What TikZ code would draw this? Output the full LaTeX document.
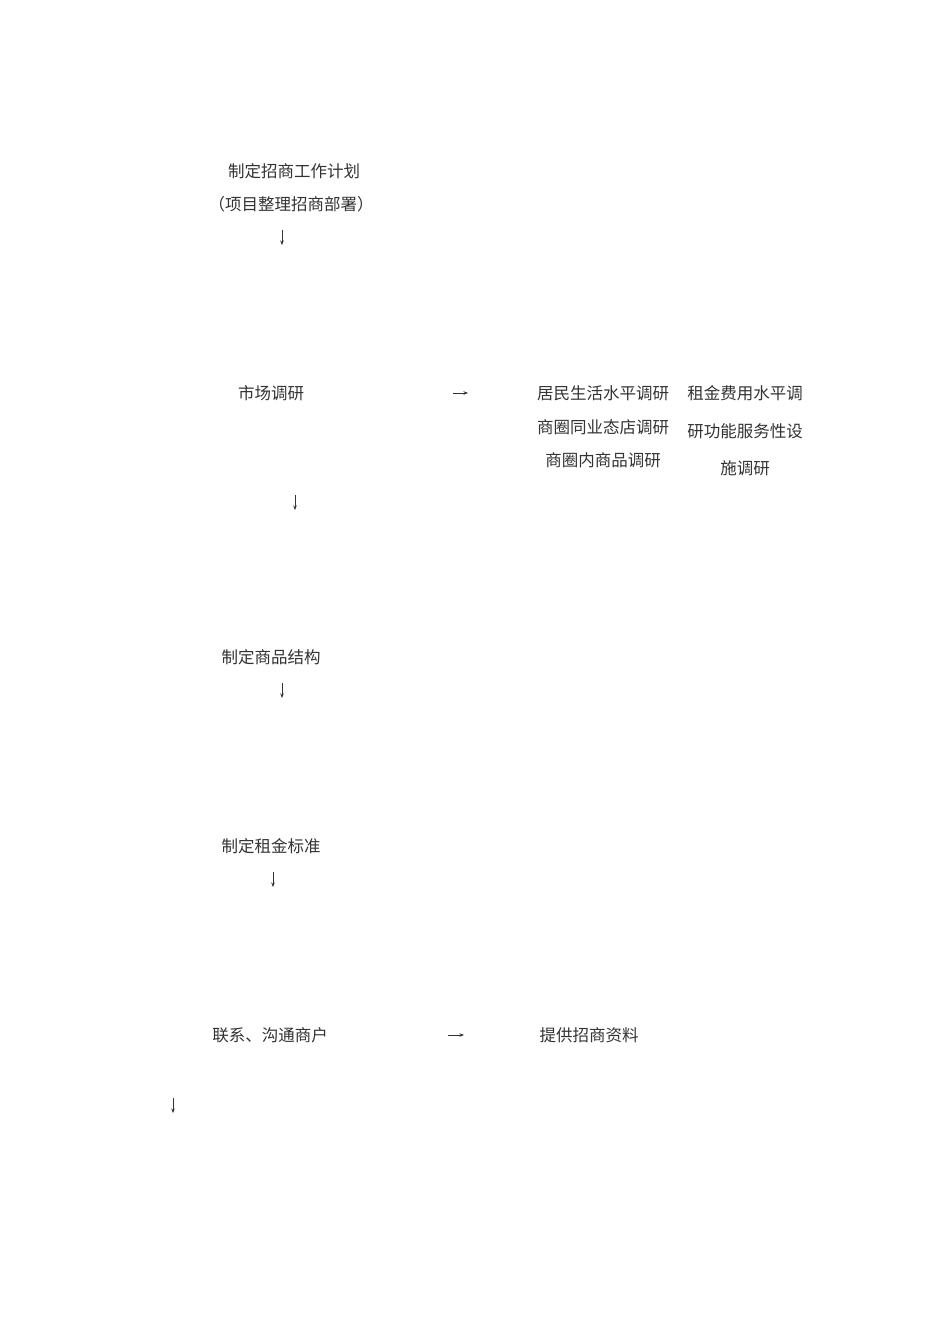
\documentclass[tikz,border=0pt]{standalone}
\usepackage{fontspec}
\setmainfont{Noto Sans CJK SC}
\usetikzlibrary{arrows.meta}
\definecolor{ink}{HTML}{333333}
\tikzset{
  lbl/.style={text=ink, inner sep=0pt, font=\fontsize{16.5}{20}\selectfont},
  glyph/.style={draw=ink, line width=0.6pt, -{Stealth[length=4.5pt,width=3.5pt]}}
}
\begin{document}
\begin{tikzpicture}[x=1pt,y=-1pt]
\useasboundingbox (0,0) rectangle (950,1344);
\fill[white] (0,0) rectangle (950,1344);
\node[lbl] (plan) at (294,171) {制定招商工作计划};
\node[lbl] (plan2) at (291,204) {（项目整理招商部署）};
\coordinate (a1s) at (282,230); \coordinate (a1e) at (282,245);
\draw[glyph] (a1s) -- (a1e);

\node[lbl] (market) at (271,393) {市场调研};
\coordinate (a2s) at (453,393); \coordinate (a2e) at (468,393);
\draw[glyph] (a2s) -- (a2e);
\node[lbl] (r1) at (603,393) {居民生活水平调研};
\node[lbl] (r2) at (603,427) {商圈同业态店调研};
\node[lbl] (r3) at (603,460) {商圈内商品调研};
\node[lbl] (s1) at (745,393) {租金费用水平调};
\node[lbl] (s2) at (745,431) {研功能服务性设};
\node[lbl] (s3) at (745,468) {施调研};
\coordinate (a3s) at (295,495); \coordinate (a3e) at (295,510);
\draw[glyph] (a3s) -- (a3e);

\node[lbl] (struct) at (271,657) {制定商品结构};
\coordinate (a4s) at (282,683); \coordinate (a4e) at (282,698);
\draw[glyph] (a4s) -- (a4e);

\node[lbl] (rent) at (271,846) {制定租金标准};
\coordinate (a5s) at (273,872); \coordinate (a5e) at (273,887);
\draw[glyph] (a5s) -- (a5e);

\node[lbl] (contact) at (270,1035) {联系、沟通商户};
\coordinate (a6s) at (448,1035); \coordinate (a6e) at (464,1035);
\draw[glyph] (a6s) -- (a6e);
\node[lbl] (info) at (589,1035) {提供招商资料};
\coordinate (a7s) at (173,1098); \coordinate (a7e) at (173,1113);
\draw[glyph] (a7s) -- (a7e);
\end{tikzpicture}
\end{document}
